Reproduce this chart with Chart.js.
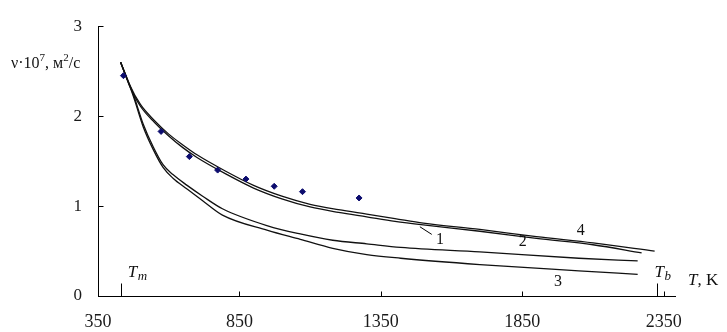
<!DOCTYPE html>
<html>
<head>
<meta charset="utf-8">
<script src="https://cdn.jsdelivr.net/npm/chart.js@4.4.0/dist/chart.umd.min.js"></script>
<style>
  html, body { margin: 0; padding: 0; background: #fff; }
  #wrap { width: 727px; height: 332px; position: relative; }
</style>
</head>
<body>
<div id="wrap"><canvas id="myChart"></canvas></div>
<script>
// experimental points
let pointT = [440, 573, 673, 773, 873, 973, 1073, 1273];
let pointNu = [2.45, 1.83, 1.55, 1.40, 1.30, 1.22, 1.16, 1.09];

// curve 4 (upper of the top pair)
let curve4T = [430, 460, 500, 550, 600, 650, 700, 800, 900, 1000, 1100, 1200, 1300, 1400, 1500, 1700, 1900, 2100, 2318];
let curve4Nu = [2.60, 2.36, 2.13, 1.95, 1.80, 1.68, 1.57, 1.39, 1.23, 1.11, 1.02, 0.96, 0.91, 0.86, 0.81, 0.74, 0.66, 0.59, 0.50];

// curve 1
let curve1T = [430, 460, 500, 550, 600, 650, 700, 800, 900, 1000, 1100, 1200, 1300, 1400, 1500, 1700, 1900, 2100, 2272];
let curve1Nu = [2.60, 2.35, 2.11, 1.93, 1.78, 1.65, 1.54, 1.36, 1.20, 1.08, 0.99, 0.93, 0.88, 0.83, 0.79, 0.72, 0.64, 0.57, 0.48];

// curve 2 (middle at the right end)
let curve2T = [430, 475, 510, 545, 580, 615, 665, 720, 790, 950, 1065, 1180, 1300, 1420, 1700, 2050, 2258];
let curve2Nu = [2.60, 2.24, 1.91, 1.66, 1.46, 1.35, 1.23, 1.11, 0.97, 0.78, 0.69, 0.62, 0.58, 0.54, 0.49, 0.42, 0.39];

// curve 3 (lowest)
let curve3T = [430, 475, 510, 545, 580, 615, 665, 720, 790, 950, 1065, 1180, 1300, 1420, 1700, 2050, 2258];
let curve3Nu = [2.60, 2.22, 1.88, 1.63, 1.43, 1.31, 1.19, 1.06, 0.90, 0.73, 0.63, 0.53, 0.46, 0.42, 0.35, 0.28, 0.24];

// axes
let xTicks = [350, 850, 1350, 1850, 2350];
let yTicks = [0, 1, 2, 3];
let meltT = 430;
let boilT = 2325;

// curve numbers (in data units)
let curveLabels = [
    { text: '1', T: 1559, nu: 0.63 },
    { text: '2', T: 1852, nu: 0.60 },
    { text: '3', T: 1976, nu: 0.16 },
    { text: '4', T: 2057, nu: 0.73 }
];

function toPoints(xs, ys) {
    return xs.map((x, i) => ({ x: x, y: ys[i] }));
}

function lineSet(xs, ys) {
    return {
        type: 'line',
        data: toPoints(xs, ys),
        borderColor: '#111',
        borderWidth: 1.3,
        pointRadius: 0,
        fill: false,
        cubicInterpolationMode: 'monotone'
    };
}

const serif = '"Liberation Serif", "Times New Roman", serif';

// extra drawing: inward ticks, Tm/Tb marks, texts
const decor = {
    id: 'decor',
    afterDraw(chart) {
        const ctx = chart.ctx;
        const xs = chart.scales.x;
        const ys = chart.scales.y;
        const bottom = Math.round(ys.getPixelForValue(0)) + 0.5;
        const left = Math.round(xs.getPixelForValue(350)) + 0.5;
        ctx.save();
        ctx.strokeStyle = '#000';
        ctx.lineWidth = 1;
        ctx.beginPath();
        xTicks.forEach(v => {
            const px = Math.round(xs.getPixelForValue(v)) + 0.5;
            ctx.moveTo(px, bottom);
            ctx.lineTo(px, bottom - 5);
        });
        yTicks.forEach(v => {
            const py = Math.round(ys.getPixelForValue(v)) + 0.5;
            ctx.moveTo(left, py);
            ctx.lineTo(left + 5, py);
        });
        [meltT, boilT].forEach(v => {
            const px = Math.round(xs.getPixelForValue(v)) + 0.5;
            ctx.moveTo(px, bottom);
            ctx.lineTo(px, bottom - 13);
        });
        // leader line for curve 1
        ctx.moveTo(xs.getPixelForValue(1488), ys.getPixelForValue(0.77));
        ctx.lineTo(xs.getPixelForValue(1530), ys.getPixelForValue(0.685));
        ctx.stroke();

        ctx.fillStyle = '#111';
        ctx.textBaseline = 'middle';
        ctx.textAlign = 'center';
        ctx.font = '16px ' + serif;
        curveLabels.forEach(l => {
            ctx.fillText(l.text, xs.getPixelForValue(l.T), ys.getPixelForValue(l.nu));
        });

        // Tm and Tb
        ctx.textAlign = 'left';
        ctx.textBaseline = 'alphabetic';
        let tx = xs.getPixelForValue(meltT) + 7;
        let ty = bottom - 20;
        ctx.font = 'italic 17px ' + serif;
        ctx.fillText('T', tx, ty);
        ctx.font = 'italic 13px ' + serif;
        ctx.fillText('m', tx + 10, ty + 3);

        tx = xs.getPixelForValue(boilT) - 2;
        ty = bottom - 20;
        ctx.font = 'italic 17px ' + serif;
        ctx.fillText('T', tx, ty);
        ctx.font = 'italic 13px ' + serif;
        ctx.fillText('b', tx + 10, ty + 3);

        // x axis title
        tx = xs.right + 13;
        ty = bottom - 12;
        ctx.font = 'italic 17px ' + serif;
        ctx.fillText('T', tx, ty);
        let w = ctx.measureText('T').width;
        ctx.font = '17px ' + serif;
        ctx.fillText(', K', tx + w, ty);

        // y axis title
        tx = 11;
        ty = 68;
        const parts = [
            ['ν·10', 16, 0],
            ['7', 11, -7],
            [', м', 16, 0],
            ['2', 11, -7],
            ['/с', 16, 0]
        ];
        parts.forEach(p => {
            ctx.font = p[1] + 'px ' + serif;
            ctx.fillText(p[0], tx, ty + p[2]);
            tx += ctx.measureText(p[0]).width;
        });
        ctx.restore();
    }
};

const ctx = document.getElementById('myChart').getContext('2d');
const myChart = new Chart(ctx, {
    type: 'scatter',
    data: {
        datasets: [
            {
                data: toPoints(pointT, pointNu),
                backgroundColor: '#0c0c6e',
                borderColor: '#0c0c6e',
                pointStyle: 'rectRot',
                pointRadius: 3,
                showLine: false
            },
            lineSet(curve4T, curve4Nu),
            lineSet(curve1T, curve1Nu),
            lineSet(curve2T, curve2Nu),
            lineSet(curve3T, curve3Nu)
        ]
    },
    options: {
        responsive: true,
        maintainAspectRatio: false,
        animation: false,
        layout: { padding: { top: 20, right: 52, left: 0, bottom: 0 } },
        plugins: {
            legend: { display: false },
            tooltip: { enabled: false }
        },
        scales: {
            x: {
                type: 'linear',
                min: 350,
                max: 2390,
                afterBuildTicks: s => { s.ticks = xTicks.map(v => ({ value: v })); },
                afterFit: s => { s.height = 36; },
                grid: { display: false, drawTicks: false },
                border: { display: true, color: '#000', width: 1 },
                ticks: {
                    padding: 15,
                    maxRotation: 0,
                    color: '#1a1a1a',
                    font: { family: serif, size: 18 },
                    callback: v => String(v)
                }
            },
            y: {
                min: 0,
                max: 3,
                afterBuildTicks: s => { s.ticks = yTicks.map(v => ({ value: v })); },
                afterFit: s => { s.width = 98; },
                grid: { display: false, drawTicks: false },
                border: { display: true, color: '#000', width: 1 },
                ticks: {
                    padding: 16,
                    color: '#1a1a1a',
                    font: { family: serif, size: 17 },
                    callback: v => String(v)
                }
            }
        }
    },
    plugins: [decor]
});
</script>
</body>
</html>
